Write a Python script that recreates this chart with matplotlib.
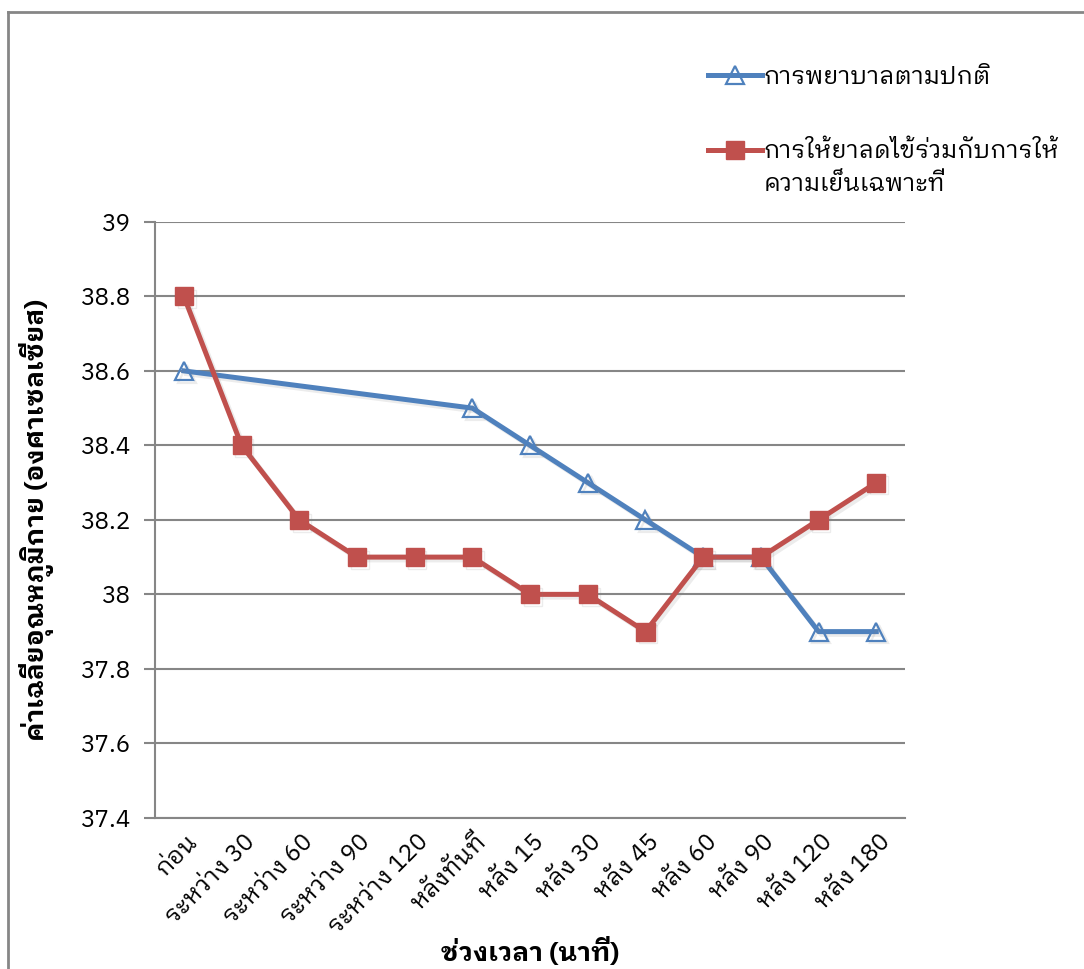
import matplotlib
matplotlib.use("Agg")
import numpy as np
import matplotlib.pyplot as plt
import matplotlib.patheffects as pe
from matplotlib.lines import Line2D
from matplotlib.transforms import ScaledTranslation

plt.rcParams['font.family'] = ['IBM Plex Sans Thai Looped', 'DejaVu Sans']

# data
periods = ['ก่อน', 'ระหว่าง 30', 'ระหว่าง 60', 'ระหว่าง 90', 'ระหว่าง 120',
           'หลังทันที', 'หลัง 15', 'หลัง 30', 'หลัง 45', 'หลัง 60',
           'หลัง 90', 'หลัง 120', 'หลัง 180']
normal_care = [38.6, None, None, None, None, 38.5, 38.4, 38.3, 38.2, 38.1, 38.1, 37.9, 37.9]
antipyretic_cooling = [38.8, 38.4, 38.2, 38.1, 38.1, 38.1, 38.0, 38.0, 37.9, 38.1, 38.1, 38.2, 38.3]
label_normal = 'การพยาบาลตามปกติ'
label_combo = ['การให้ยาลดไข้ร่วมกับการให้', 'ความเย็นเฉพาะที่']
yticks = [37.4, 37.6, 37.8, 38, 38.2, 38.4, 38.6, 38.8, 39]

blue = '#4F81BD'
red = '#C0504D'
grid_c = '#868686'
fs = 17.5

fig = plt.figure(figsize=(10.84, 9.69), dpi=100)
ax = fig.add_axes([0.143, 0.156, 0.692, 0.615])

x = np.arange(len(periods))
nc_idx = [i for i, v in enumerate(normal_care) if v is not None]
nc_val = [normal_care[i] for i in nc_idx]

shadow = [pe.SimpleLineShadow(offset=(2, -2), shadow_color='gray', alpha=0.15), pe.Normal()]
ax.plot(nc_idx, nc_val, color=blue, lw=3.6, marker='^', ms=13, mfc='none',
        mec=blue, mew=1.6, zorder=3, path_effects=shadow)
ax.plot(x, antipyretic_cooling, color=red, lw=3.6, marker='s', ms=13,
        mfc=red, mec=red, zorder=4, path_effects=shadow)

ax.set_xlim(-0.5, len(periods) - 0.5)
ax.set_ylim(37.4, 39)
ax.set_yticks(yticks)
ax.set_yticklabels([('%g' % v) for v in yticks], fontsize=fs)
ax.yaxis.grid(True, color=grid_c, lw=1.5)
ax.set_axisbelow(True)
for s in ['top', 'right']:
    ax.spines[s].set_visible(False)
for s in ['left', 'bottom']:
    ax.spines[s].set_color(grid_c)
    ax.spines[s].set_linewidth(1.5)
ax.tick_params(axis='y', length=8, width=1.5, color=grid_c, pad=10)
ax.tick_params(axis='x', length=0, pad=6)

ax.set_xticks(x)
ax.set_xticklabels(periods, rotation=45, ha='right', va='center',
                   rotation_mode='anchor', fontsize=fs)
off = ScaledTranslation(10 / 100, -12 / 100, fig.dpi_scale_trans)
for t in ax.get_xticklabels():
    t.set_transform(t.get_transform() + off)

ax.set_ylabel('ค่าเฉลี่ยอุณหภูมิกาย (องศาเซลเซียส)', fontsize=19, fontweight='bold')
ax.yaxis.set_label_coords(-0.135, 0.5)
ax.set_xlabel('ช่วงเวลา (นาที)', fontsize=19, fontweight='bold', va='center')
ax.xaxis.set_label_coords(0.5, -0.225)

h_blue = Line2D([], [], color=blue, lw=3.6, marker='^', ms=13, mfc='none', mec=blue, mew=1.6)
h_red = Line2D([], [], color=red, lw=3.6, marker='s', ms=13, mfc=red, mec=red)
h_none = Line2D([], [], lw=0, alpha=0)
fig.legend([h_blue], [label_normal], loc='center left',
           bbox_to_anchor=(0.642, 1 - 77 / 969), frameon=False, fontsize=fs,
           handlelength=2.2, handletextpad=0.1, borderpad=0)
fig.legend([h_red, h_none], label_combo, loc='upper left',
           bbox_to_anchor=(0.642, 1 - 128 / 969), frameon=False, fontsize=fs,
           handlelength=2.2, handletextpad=0.1, labelspacing=0.4, borderpad=0)

# outer chart frame
fig.add_artist(Line2D([0.0075, 0.0075], [0.0, 0.9875], color=grid_c, lw=2))
fig.add_artist(Line2D([0.0075, 1.0], [0.9875, 0.9875], color=grid_c, lw=2))

fig.savefig('out.png', dpi=100)
